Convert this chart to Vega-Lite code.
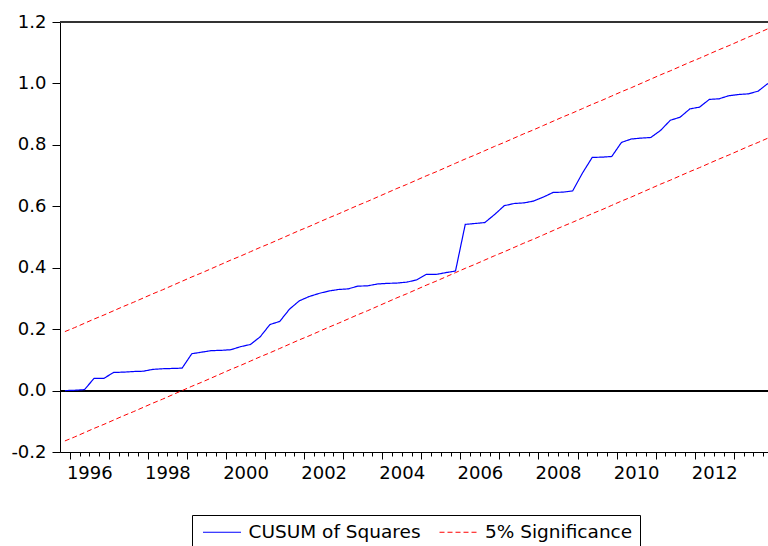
{
  "$schema": "https://vega.github.io/schema/vega-lite/v6.json",
  "width": 708,
  "height": 430,
  "autosize": {"type": "none"},
  "padding": {"left": 60, "top": 22, "right": 0, "bottom": 94},
  "background": "white",
  "config": {
    "view": {"stroke": null},
    "font": "DejaVu Sans",
    "axis": {"labelFont": "DejaVu Sans", "labelFontSize": 18, "labelColor": "black", "domainColor": "black", "tickColor": "black", "grid": false, "title": null},
    "legend": {
      "orient": "none", "legendX": 132, "legendY": 493, "direction": "horizontal",
      "title": null, "strokeColor": "black", "fillColor": "white", "padding": 7,
      "symbolType": "M-1,0H3", "symbolSize": 361, "symbolStrokeWidth": 1, "symbolOffset": 3.5,
      "labelFont": "DejaVu Sans", "labelFontSize": 18.5, "labelColor": "black", "labelLimit": 400,
      "labelOffset": 26, "columnPadding": 14.5
    }
  },
  "data": {"values": [
    {"d":1995.875,"cusum":0.000,"lower":-0.164,"upper":0.192},
    {"d":1996.125,"cusum":0.001,"lower":-0.151,"upper":0.205},
    {"d":1996.375,"cusum":0.003,"lower":-0.137,"upper":0.219},
    {"d":1996.625,"cusum":0.040,"lower":-0.123,"upper":0.233},
    {"d":1996.875,"cusum":0.040,"lower":-0.110,"upper":0.246},
    {"d":1997.125,"cusum":0.059,"lower":-0.096,"upper":0.260},
    {"d":1997.375,"cusum":0.060,"lower":-0.082,"upper":0.274},
    {"d":1997.625,"cusum":0.062,"lower":-0.069,"upper":0.287},
    {"d":1997.875,"cusum":0.063,"lower":-0.055,"upper":0.301},
    {"d":1998.125,"cusum":0.069,"lower":-0.041,"upper":0.315},
    {"d":1998.375,"cusum":0.071,"lower":-0.028,"upper":0.328},
    {"d":1998.625,"cusum":0.072,"lower":-0.014,"upper":0.342},
    {"d":1998.875,"cusum":0.073,"lower":0.000,"upper":0.356},
    {"d":1999.125,"cusum":0.120,"lower":0.014,"upper":0.370},
    {"d":1999.375,"cusum":0.125,"lower":0.027,"upper":0.383},
    {"d":1999.625,"cusum":0.130,"lower":0.041,"upper":0.397},
    {"d":1999.875,"cusum":0.131,"lower":0.055,"upper":0.411},
    {"d":2000.125,"cusum":0.133,"lower":0.069,"upper":0.425},
    {"d":2000.375,"cusum":0.143,"lower":0.082,"upper":0.438},
    {"d":2000.625,"cusum":0.150,"lower":0.096,"upper":0.452},
    {"d":2000.875,"cusum":0.175,"lower":0.110,"upper":0.466},
    {"d":2001.125,"cusum":0.215,"lower":0.123,"upper":0.479},
    {"d":2001.375,"cusum":0.225,"lower":0.137,"upper":0.493},
    {"d":2001.625,"cusum":0.265,"lower":0.151,"upper":0.507},
    {"d":2001.875,"cusum":0.292,"lower":0.165,"upper":0.521},
    {"d":2002.125,"cusum":0.306,"lower":0.178,"upper":0.534},
    {"d":2002.375,"cusum":0.316,"lower":0.192,"upper":0.548},
    {"d":2002.625,"cusum":0.324,"lower":0.206,"upper":0.562},
    {"d":2002.875,"cusum":0.329,"lower":0.219,"upper":0.575},
    {"d":2003.125,"cusum":0.331,"lower":0.233,"upper":0.589},
    {"d":2003.375,"cusum":0.340,"lower":0.247,"upper":0.603},
    {"d":2003.625,"cusum":0.341,"lower":0.260,"upper":0.616},
    {"d":2003.875,"cusum":0.347,"lower":0.274,"upper":0.630},
    {"d":2004.125,"cusum":0.349,"lower":0.288,"upper":0.644},
    {"d":2004.375,"cusum":0.350,"lower":0.302,"upper":0.658},
    {"d":2004.625,"cusum":0.353,"lower":0.315,"upper":0.671},
    {"d":2004.875,"cusum":0.360,"lower":0.329,"upper":0.685},
    {"d":2005.125,"cusum":0.378,"lower":0.343,"upper":0.699},
    {"d":2005.375,"cusum":0.378,"lower":0.356,"upper":0.712},
    {"d":2005.625,"cusum":0.384,"lower":0.370,"upper":0.726},
    {"d":2005.875,"cusum":0.389,"lower":0.384,"upper":0.740},
    {"d":2006.125,"cusum":0.541,"lower":0.398,"upper":0.754},
    {"d":2006.375,"cusum":0.544,"lower":0.411,"upper":0.767},
    {"d":2006.625,"cusum":0.547,"lower":0.425,"upper":0.781},
    {"d":2006.875,"cusum":0.573,"lower":0.439,"upper":0.795},
    {"d":2007.125,"cusum":0.602,"lower":0.452,"upper":0.808},
    {"d":2007.375,"cusum":0.609,"lower":0.466,"upper":0.822},
    {"d":2007.625,"cusum":0.611,"lower":0.480,"upper":0.836},
    {"d":2007.875,"cusum":0.617,"lower":0.493,"upper":0.849},
    {"d":2008.125,"cusum":0.630,"lower":0.507,"upper":0.863},
    {"d":2008.375,"cusum":0.645,"lower":0.521,"upper":0.877},
    {"d":2008.625,"cusum":0.646,"lower":0.535,"upper":0.891},
    {"d":2008.875,"cusum":0.650,"lower":0.548,"upper":0.904},
    {"d":2009.125,"cusum":0.708,"lower":0.562,"upper":0.918},
    {"d":2009.375,"cusum":0.759,"lower":0.576,"upper":0.932},
    {"d":2009.625,"cusum":0.760,"lower":0.589,"upper":0.945},
    {"d":2009.875,"cusum":0.762,"lower":0.603,"upper":0.959},
    {"d":2010.125,"cusum":0.808,"lower":0.617,"upper":0.973},
    {"d":2010.375,"cusum":0.819,"lower":0.630,"upper":0.986},
    {"d":2010.625,"cusum":0.822,"lower":0.644,"upper":1.000},
    {"d":2010.875,"cusum":0.824,"lower":0.658,"upper":1.014},
    {"d":2011.125,"cusum":0.847,"lower":0.672,"upper":1.028},
    {"d":2011.375,"cusum":0.880,"lower":0.685,"upper":1.041},
    {"d":2011.625,"cusum":0.890,"lower":0.699,"upper":1.055},
    {"d":2011.875,"cusum":0.917,"lower":0.713,"upper":1.069},
    {"d":2012.125,"cusum":0.923,"lower":0.726,"upper":1.082},
    {"d":2012.375,"cusum":0.948,"lower":0.740,"upper":1.096},
    {"d":2012.625,"cusum":0.950,"lower":0.754,"upper":1.110},
    {"d":2012.875,"cusum":0.960,"lower":0.767,"upper":1.123},
    {"d":2013.125,"cusum":0.964,"lower":0.781,"upper":1.137},
    {"d":2013.375,"cusum":0.966,"lower":0.795,"upper":1.151},
    {"d":2013.625,"cusum":0.975,"lower":0.808,"upper":1.164},
    {"d":2013.875,"cusum":1.000,"lower":0.822,"upper":1.178}
  ]},
  "layer": [
    {
      "mark": {"type": "rule", "color": "#333333", "strokeWidth": 2},
      "encoding": {"y": {"datum": 1.2, "type": "quantitative"}}
    },
    {
      "mark": {"type": "rule", "color": "black", "strokeWidth": 1},
      "encoding": {"y": {"datum": 0, "type": "quantitative"}}
    },
    {
      "mark": {"type": "line", "strokeWidth": 1.2},
      "encoding": {
        "x": {
          "field": "d", "type": "quantitative",
          "scale": {"domain": [1995.75, 2013.876], "nice": false, "zero": false},
          "axis": {
            "values": [1996,1996.25,1996.5,1996.75,1997,1997.25,1997.5,1997.75,1998,1998.25,1998.5,1998.75,1999,1999.25,1999.5,1999.75,2000,2000.25,2000.5,2000.75,2001,2001.25,2001.5,2001.75,2002,2002.25,2002.5,2002.75,2003,2003.25,2003.5,2003.75,2004,2004.25,2004.5,2004.75,2005,2005.25,2005.5,2005.75,2006,2006.25,2006.5,2006.75,2007,2007.25,2007.5,2007.75,2008,2008.25,2008.5,2008.75,2009,2009.25,2009.5,2009.75,2010,2010.25,2010.5,2010.75,2011,2011.25,2011.5,2011.75,2012,2012.25,2012.5,2012.75,2013,2013.25,2013.5,2013.75],
            "labelExpr": "(datum.value % 1 === 0.5 && floor(datum.value) % 2 === 0) ? ('' + floor(datum.value)) : ''",
            "tickSize": {"condition": {"test": "datum.value % 1 === 0", "value": 7}, "value": 4},
            "labelPadding": 8,
            "labelFlush": false,
            "labelOverlap": false,
            "labelBound": false
          }
        },
        "y": {
          "field": "cusum", "type": "quantitative",
          "scale": {"domain": [-0.2, 1.2], "nice": false, "zero": false},
          "axis": {
            "values": [-0.2, 0, 0.2, 0.4, 0.6, 0.8, 1.0, 1.2],
            "format": ".1f",
            "labelExpr": "replace(datum.label, '\u2212', '-')",
            "tickSize": 8,
            "labelPadding": 6
          }
        },
        "color": {"datum": "CUSUM of Squares", "type": "nominal",
          "scale": {"domain": ["CUSUM of Squares", "5% Significance"], "range": ["#0000FF", "#FF0000"]}},
        "strokeDash": {"datum": "CUSUM of Squares", "type": "nominal",
          "scale": {"domain": ["CUSUM of Squares", "5% Significance"], "range": [[1, 0], [5, 3]]}}
      }
    },
    {
      "transform": [{"fold": ["lower", "upper"], "as": ["band", "val"]}],
      "mark": {"type": "line", "strokeWidth": 1},
      "encoding": {
        "x": {
          "field": "d", "type": "quantitative",
          "axis": {
            "values": [1996,1996.25,1996.5,1996.75,1997,1997.25,1997.5,1997.75,1998,1998.25,1998.5,1998.75,1999,1999.25,1999.5,1999.75,2000,2000.25,2000.5,2000.75,2001,2001.25,2001.5,2001.75,2002,2002.25,2002.5,2002.75,2003,2003.25,2003.5,2003.75,2004,2004.25,2004.5,2004.75,2005,2005.25,2005.5,2005.75,2006,2006.25,2006.5,2006.75,2007,2007.25,2007.5,2007.75,2008,2008.25,2008.5,2008.75,2009,2009.25,2009.5,2009.75,2010,2010.25,2010.5,2010.75,2011,2011.25,2011.5,2011.75,2012,2012.25,2012.5,2012.75,2013,2013.25,2013.5,2013.75],
            "labelExpr": "(datum.value % 1 === 0.5 && floor(datum.value) % 2 === 0) ? ('' + floor(datum.value)) : ''",
            "tickSize": {"condition": {"test": "datum.value % 1 === 0", "value": 7}, "value": 4},
            "labelPadding": 8,
            "labelFlush": false,
            "labelOverlap": false,
            "labelBound": false
          }
        },
        "y": {"field": "val", "type": "quantitative"},
        "detail": {"field": "band", "type": "nominal"},
        "color": {"datum": "5% Significance", "type": "nominal"},
        "strokeDash": {"datum": "5% Significance", "type": "nominal"}
      }
    }
  ]
}
